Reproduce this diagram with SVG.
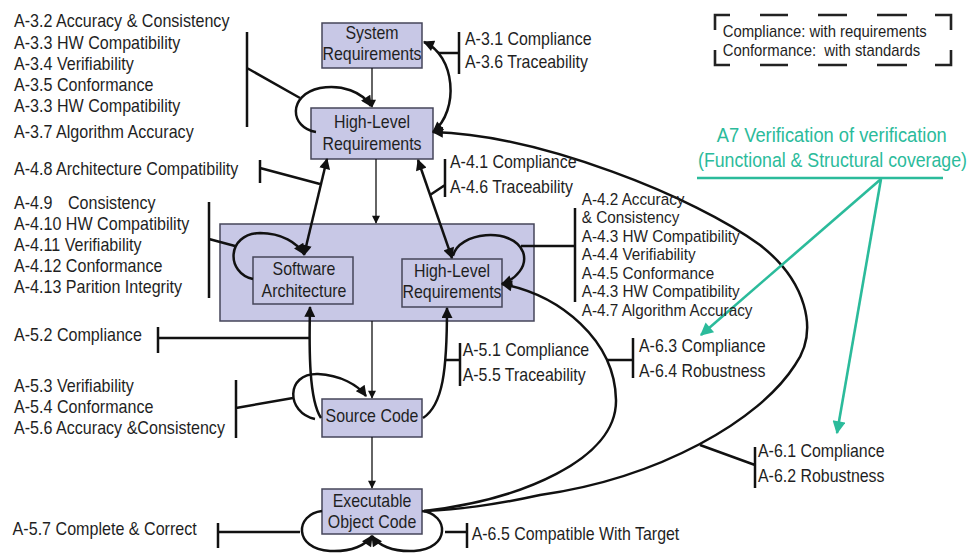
<svg xmlns="http://www.w3.org/2000/svg" width="972" height="554" viewBox="0 0 972 554">
<style>
.t { font-family: "Liberation Sans", Arial, sans-serif; font-size: 17.5px; fill: #1f1f1f; }
.r { font-size: 17px; }
.lg { font-size: 16px; }
.tl { font-size: 19.5px; fill: #2bbb9b; }
.box { fill: #c8c8e6; stroke: #45455a; stroke-width: 1.5; }
.c { fill: none; stroke: #111; stroke-width: 2.5; }
.thin { fill: none; stroke: #111; stroke-width: 1.3; }
.teal { fill: none; stroke: #2bbb9b; stroke-width: 2.6; }
.dash { fill: none; stroke: #222; stroke-width: 2.6; }
</style>
<defs>
<marker id="ah" viewBox="0 0 10 10" refX="9" refY="5" markerWidth="12" markerHeight="11" markerUnits="userSpaceOnUse" orient="auto-start-reverse"><path d="M0,0 L10,5 L0,10 z" fill="#111"/></marker>
<marker id="ahs" viewBox="0 0 10 10" refX="9" refY="5" markerWidth="9" markerHeight="8" markerUnits="userSpaceOnUse" orient="auto-start-reverse"><path d="M0,0 L10,5 L0,10 z" fill="#111"/></marker>
<marker id="aht" viewBox="0 0 10 10" refX="9" refY="5" markerWidth="15" markerHeight="13" markerUnits="userSpaceOnUse" orient="auto"><path d="M0,0 L10,5 L0,10 z" fill="#2bbb9b"/></marker>
</defs>
<rect width="972" height="554" fill="#fff"/>

<g id="sw-level-container">
<rect class="box" x="220" y="224" width="314" height="97"/>
</g>

<g id="system-requirements">
<rect class="box" x="322" y="23" width="100" height="45"/>
<g class="t" transform="translate(372,0) scale(0.91,1)" text-anchor="middle"><text y="39.3">System</text><text y="60">Requirements</text></g>
</g>

<g id="high-level-requirements">
<rect class="box" x="311" y="108" width="122" height="51"/>
<g class="t" transform="translate(372,0) scale(0.91,1)" text-anchor="middle"><text y="128.3">High-Level</text><text y="150">Requirements</text></g>
</g>

<g id="software-architecture">
<rect class="box" x="253" y="257" width="100" height="47"/>
<g class="t" transform="translate(304,0) scale(0.91,1)" text-anchor="middle"><text y="275">Software</text><text y="296.7">Architecture</text></g>
</g>

<g id="low-level-requirements">
<rect class="box" x="402" y="259" width="100" height="48"/>
<g class="t" transform="translate(452,0) scale(0.91,1)" text-anchor="middle"><text y="276.7">High-Level</text><text y="298.3">Requirements</text></g>
</g>

<g id="source-code">
<rect class="box" x="322" y="399" width="100" height="38"/>
<g class="t" transform="translate(372,0) scale(0.91,1)" text-anchor="middle"><text y="421.7">Source Code</text></g>
</g>

<g id="executable-object-code">
<rect class="box" x="322" y="489" width="100" height="45"/>
<g class="t" transform="translate(372,0) scale(0.91,1)" text-anchor="middle"><text y="506.7">Executable</text><text y="528.3">Object Code</text></g>
</g>

<g id="connectors">
<path class="thin" d="M372 68 V107" marker-end="url(#ahs)"/>
<path class="thin" d="M376 159 V223" marker-end="url(#ahs)"/>
<path class="thin" d="M372 321 V398" marker-end="url(#ahs)"/>
<path class="thin" d="M372 437 V488" marker-end="url(#ahs)"/>
<path class="c" d="M316 132 C290 128 287 95 320 88 C342 84 362 92 371 106" marker-end="url(#ah)"/>
<path class="c" d="M424 42 C455 55 460 110 433 132" marker-start="url(#ah)" marker-end="url(#ah)"/>
<path class="c" d="M247 32 V127 M247 68 L300 98"/>
<path class="c" d="M459 32 V74 M438 53 H459"/>
<path class="c" d="M304 255 L327 159" marker-start="url(#ah)" marker-end="url(#ah)"/>
<path class="c" d="M260 160 V183 M260 168 L320 184"/>
<path class="c" d="M418 160 L452 258" marker-start="url(#ah)" marker-end="url(#ah)"/>
<path class="c" d="M445 159 V197 M430 195 L445 185"/>
<path class="c" d="M253 279 C226 273 226 234 260 233 C282 233 297 243 304 254" marker-end="url(#ah)"/>
<path class="c" d="M209 202 V298 M209 239 L235 246"/>
<path class="c" d="M453 256 C458 232 512 226 523 252 C528 266 516 279 502 284" marker-end="url(#ah)"/>
<path class="c" d="M575 208 V302 M521 246 H575"/>
<path class="c" d="M433 132 C540 135 695 197 760 245 C805 280 820 330 795 365 C760 420 660 478 540 495 C490 506 460 509 424 511" marker-start="url(#ah)"/>
<path class="c" d="M700 445 L755 465 M755 447 V488"/>
<path class="c" d="M502 284 C560 295 615 340 616 400 C617 460 520 500 424 511" marker-start="url(#ah)"/>
<path class="c" d="M607 360 H633 M633 338 V378"/>
<path class="c" d="M310 307 C309 350 309 400 321 418" marker-start="url(#ah)"/>
<path class="c" d="M158 327 V353 M158 338 H310"/>
<path class="c" d="M447 308 C447 370 443 405 423 418" marker-start="url(#ah)"/>
<path class="c" d="M445 360 H460 M460 343 V386"/>
<path class="c" d="M315 419 C286 413 285 373 318 374 C340 375 358 385 366 396" marker-end="url(#ah)"/>
<path class="c" d="M236 380 V438 M236 408 L293 398"/>
<path class="c" d="M322 511 C295 514 293 549 330 551 C352 552 366 545 372 536" marker-end="url(#ah)"/>
<path class="c" d="M422 511 C449 514 451 549 414 551 C392 552 378 545 372 536" marker-end="url(#ah)"/>
<path class="c" d="M218 523 V548 M218 532 H300"/>
<path class="c" d="M445 532 H467 M467 523 V548"/>
<path class="teal" d="M697 178 H943"/>
<path class="teal" d="M881 179 L701 335" marker-end="url(#aht)"/>
<path class="teal" d="M881 179 L837 433" marker-end="url(#aht)"/>
</g>

<g id="labels-left" class="t" transform="translate(14,0) scale(0.92,1)">
<text y="27.5">A-3.2 Accuracy &amp; Consistency</text>
<text y="48.7">A-3.3 HW Compatibility</text>
<text y="69.7">A-3.4 Verifiability</text>
<text y="90.7">A-3.5 Conformance</text>
<text y="111.7">A-3.3 HW Compatibility</text>
<text y="138">A-3.7 Algorithm Accuracy</text>
<text y="175">A-4.8 Architecture Compatibility</text>
<text y="209.3">A-4.9<tspan x="58.7">Consistency</tspan></text>
<text y="230">A-4.10 HW Compatibility</text>
<text y="250.7">A-4.11 Verifiability</text>
<text y="271.7">A-4.12 Conformance</text>
<text y="292.7">A-4.13 Parition Integrity</text>
<text y="340.7">A-5.2 Compliance</text>
<text y="391.7">A-5.3 Verifiability</text>
<text y="412.7">A-5.4 Conformance</text>
<text y="434">A-5.6 Accuracy &amp;Consistency</text>
<text x="-1.5" y="535">A-5.7 Complete &amp; Correct</text>
</g>

<g id="labels-a3" class="t" transform="translate(465,0) scale(0.91,1)">
<text y="45">A-3.1 Compliance</text>
<text y="68.3">A-3.6 Traceability</text>
</g>
<g id="labels-a41" class="t" transform="translate(450,0) scale(0.91,1)">
<text y="168.3">A-4.1 Compliance</text>
<text y="193.3">A-4.6 Traceability</text>
</g>
<g id="labels-a42" class="t r" transform="translate(581.7,0) scale(0.9,1)">
<text y="205">A-4.2 Accuracy</text>
<text y="223.3">&amp; Consistency</text>
<text y="241.7">A-4.3 HW Compatibility</text>
<text y="260">A-4.4 Verifiability</text>
<text y="279.3">A-4.5 Conformance</text>
<text y="296.7">A-4.3 HW Compatibility</text>
<text y="316">A-4.7 Algorithm Accuracy</text>
</g>
<g id="labels-a51" class="t" transform="translate(462.7,0) scale(0.91,1)">
<text y="356">A-5.1 Compliance</text>
<text y="380.7">A-5.5 Traceability</text>
</g>
<g id="labels-a65" class="t" transform="translate(471.7,0) scale(0.91,1)">
<text y="540">A-6.5 Compatible With Target</text>
</g>
<g id="labels-a63" class="t" transform="translate(639,0) scale(0.91,1)">
<text y="351.7">A-6.3 Compliance</text>
<text y="376.7">A-6.4 Robustness</text>
</g>
<g id="labels-a61" class="t" transform="translate(758,0) scale(0.91,1)">
<text y="456.7">A-6.1 Compliance</text>
<text y="481.7">A-6.2 Robustness</text>
</g>

<g id="a7-note">
<g class="t tl" transform="translate(716.7,0) scale(0.94,1)"><text y="141.7">A7 Verification of verification</text></g>
<g class="t tl" transform="translate(698,0) scale(0.91,1)"><text y="167">(Functional &amp; Structural coverage)</text></g>
</g>

<g id="legend">
<path class="dash" d="M715 30 V15 H730 M760 15 H788 M818 15 H847 M877 15 H907 M935 15 H951 V30 M951 50 V65 H935 M907 65 H877 M847 65 H818 M788 65 H760 M730 65 H715 V50"/>
<g class="t lg" transform="translate(722.7,0) scale(0.93,1)">
<text y="36.7">Compliance: with requirements</text>
<text y="56">Conformance:&#160; with standards</text>
</g>
</g>
</svg>
